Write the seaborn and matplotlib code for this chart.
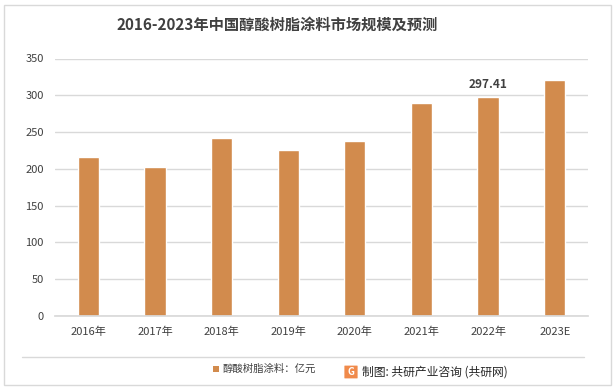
import matplotlib
matplotlib.use("Agg")
import matplotlib.pyplot as plt
import seaborn as sns
import pandas as pd
from matplotlib.patches import Rectangle, FancyBboxPatch

years = ["2016年", "2017年", "2018年", "2019年", "2020年", "2021年", "2022年", "2023E"]
values = [216.0, 202.5, 242.0, 225.5, 238.0, 289.5, 297.41, 320.8]
labelled = {"2022年": "297.41"}
yticks = [0, 50, 100, 150, 200, 250, 300, 350]
title = "2016-2023年中国醇酸树脂涂料市场规模及预测"
legend_label = "醇酸树脂涂料：亿元"
source = "制图: 共研产业咨询 (共研网)"

sns.set_theme(style="white")
plt.rcParams['font.family'] = ['Noto Sans CJK SC', 'DejaVu Sans']

W, H = 615, 390
fig = plt.figure(figsize=(W / 100, H / 100), dpi=100)
fig.patch.set_facecolor("white")

# outer border
fig.add_artist(Rectangle((4 / W, 5 / H), 607 / W, 380 / H, transform=fig.transFigure,
                         fill=False, edgecolor="#d9d9d9", linewidth=1.0))

ax = fig.add_axes([55 / W, (H - 316) / H, 533 / W, (316 - 58.5) / H])
df = pd.DataFrame({"year": years, "value": values})
bar_color = "#D28B4D"
sns.barplot(data=df, x="year", y="value", color=bar_color, width=0.32,
            saturation=1, ax=ax)

ax.set_ylim(0, 350)
ax.set_yticks(yticks)
ax.set_xlim(-0.5, len(years) - 0.5)
ax.yaxis.grid(True, color="#d9d9d9", linewidth=1)
ax.set_axisbelow(True)
for s in ["top", "right", "left"]:
    ax.spines[s].set_visible(False)
ax.spines["bottom"].set_color("#d9d9d9")
ax.tick_params(axis="both", length=0, labelsize=8, colors="#404040")
ax.tick_params(axis="x", pad=8)
ax.tick_params(axis="y", pad=8)
ax.set_xlabel("")
ax.set_ylabel("")

for i, (y, v) in enumerate(zip(years, values)):
    if y in labelled:
        ax.text(i, v + 8, labelled[y], ha="center", va="bottom", fontsize=8.5,
                fontweight="bold", color="#404040")

fig.text(277 / W, 1 - 25 / H, title, ha="center", va="center", fontsize=11,
         fontweight="bold", color="#404040")

# separator line above legend
fig.add_artist(plt.Line2D([22 / W, 584 / W], [1 - 357 / H, 1 - 357 / H],
                          transform=fig.transFigure, color="#d9d9d9", linewidth=1))

# legend
fig.add_artist(Rectangle((213 / W, 1 - 372 / H), 6 / W, 6 / H, transform=fig.transFigure,
                         facecolor=bar_color, edgecolor="none"))
fig.text(222 / W, 1 - 369 / H, legend_label, ha="left", va="center", fontsize=7.5,
         color="#404040")

# source logo + text
fig.add_artist(FancyBboxPatch((345 / W, 1 - 378 / H), 12 / W, 12 / H,
                              boxstyle="round,pad=0.001", transform=fig.transFigure,
                              facecolor="#F08A4B", edgecolor="none"))
fig.text(351 / W, 1 - 372 / H, "G", ha="center", va="center", fontsize=7,
         fontweight="bold", color="white")
fig.text(362 / W, 1 - 372 / H, source, ha="left", va="center", fontsize=8.5,
         color="#262626")

fig.savefig("out.png", dpi=100, facecolor="white")
